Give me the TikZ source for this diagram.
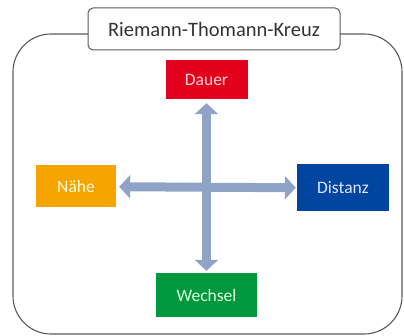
\documentclass[tikz,border=0pt]{standalone}
\usepackage{fontspec}
\setmainfont{Carlito}
\usetikzlibrary{arrows.meta}
\definecolor{rahmengrau}{HTML}{5A5A5A}
\definecolor{titelgrau}{HTML}{333333}
\definecolor{pfeilblau}{HTML}{8EA3C6}
\definecolor{dauerrot}{HTML}{E2001A}
\definecolor{naeheorange}{HTML}{F5A400}
\definecolor{distanzblau}{HTML}{0046A0}
\definecolor{wechselgruen}{HTML}{00983D}
\tikzset{
	feld/.style={inner sep=0pt, font=\fontsize{17.5}{20}\selectfont},
	kreuzpfeil/.style={draw=pfeilblau, line width=9pt,
		{Triangle[width=23pt,length=11pt]}-{Triangle[width=23pt,length=11pt]}},
}

\begin{document}
\begin{tikzpicture}[x=1pt, y=-1pt]
		%%%%% START %%%%%
		\useasboundingbox (0, 0) rectangle (404, 336);
		
		\draw[rahmengrau, line width=1.1pt, rounded corners=38pt] (13, 34) rectangle (402, 334);
		\node[draw=rahmengrau, line width=1pt, fill=white, rounded corners=5pt, minimum width=252pt, minimum height=42pt, inner sep=0pt, text=titelgrau, font=\fontsize{20.5}{24}\selectfont] (titel) at (214, 29) {Riemann-Thomann-Kreuz};
		
		\node[feld, fill=dauerrot, text=red!15, minimum width=82pt, minimum height=39pt] (dauer) at (206.5, 79.5) {Dauer};
		\node[feld, fill=naeheorange, text=yellow!15, minimum width=80pt, minimum height=42pt] (naehe) at (76, 186.5) {Nähe};
		\node[feld, fill=distanzblau, text=blue!10, minimum width=92pt, minimum height=47pt] (distanz) at (343, 188) {Distanz};
		\node[feld, fill=wechselgruen, text=green!12, minimum width=101pt, minimum height=44pt] (wechsel) at (206.5, 295) {Wechsel};
		
		\draw[kreuzpfeil, shorten <=3pt, shorten >=1pt] (naehe) -- (distanz);
		\draw[kreuzpfeil, shorten <=4pt, shorten >=2pt] (dauer) -- (wechsel);
		%%%%% END %%%%%
\end{tikzpicture}
\end{document}
